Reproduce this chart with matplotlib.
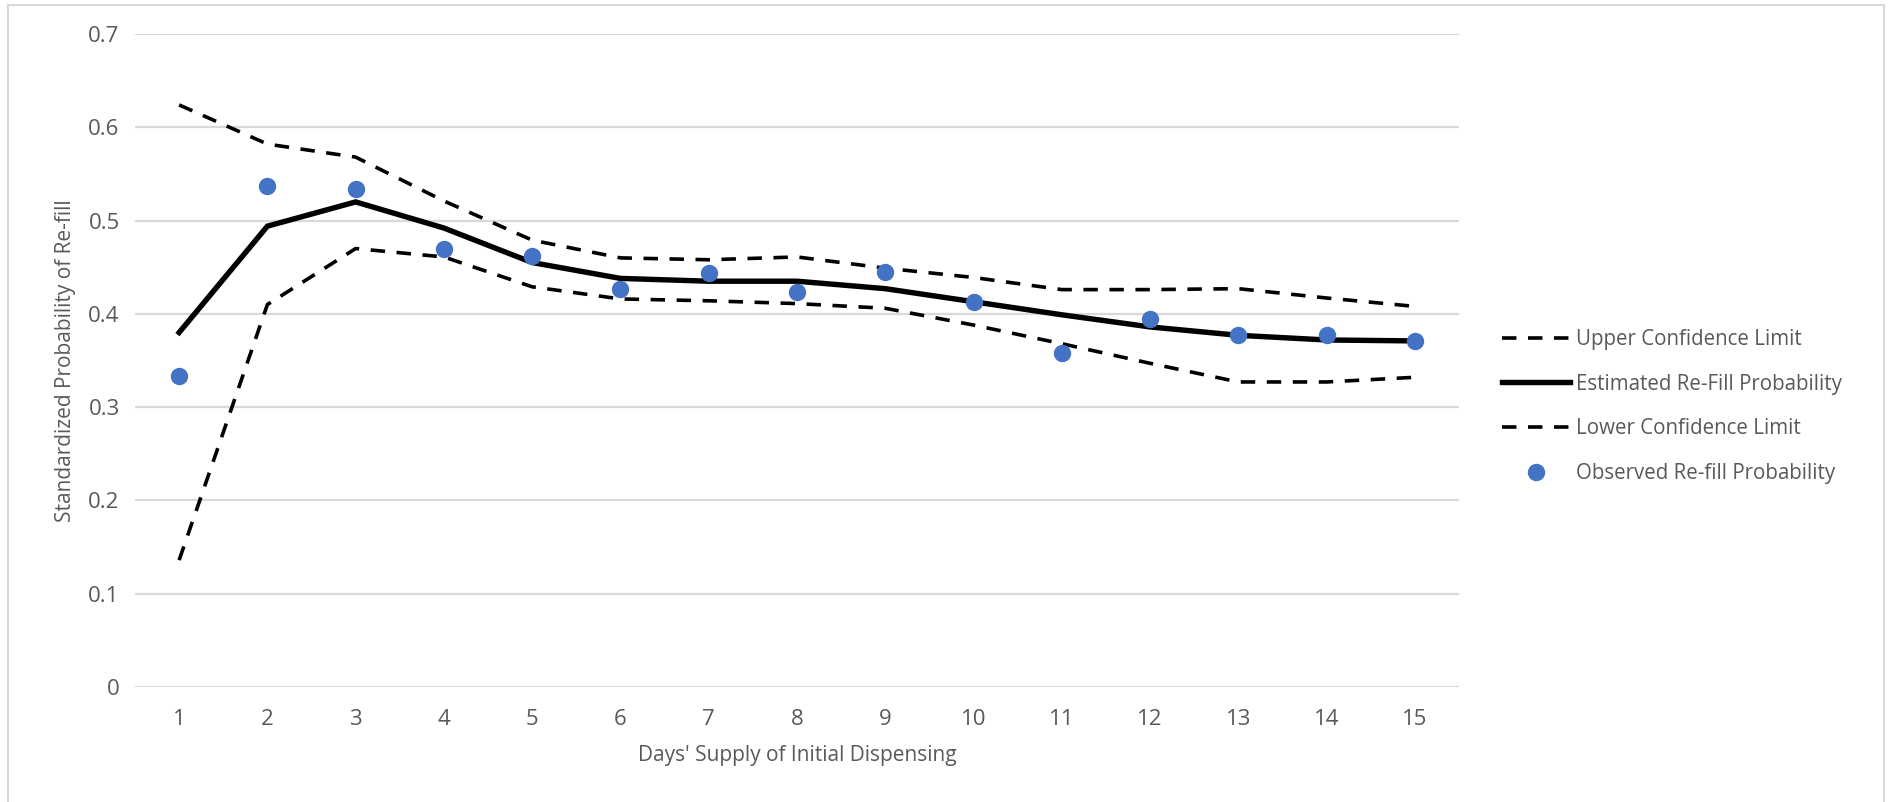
import numpy as np
import matplotlib.pyplot as plt
from matplotlib.patches import Rectangle

# days' supply of the initial dispensing
days = np.arange(1, 16)

upper_cl = [0.624, 0.582, 0.568, 0.521, 0.479, 0.460, 0.458, 0.461, 0.449,
            0.439, 0.426, 0.426, 0.427, 0.417, 0.408]
estimated = [0.380, 0.494, 0.520, 0.492, 0.455, 0.438, 0.435, 0.435, 0.427,
             0.413, 0.399, 0.386, 0.377, 0.372, 0.371]
lower_cl = [0.136, 0.410, 0.470, 0.461, 0.429, 0.416, 0.414, 0.411, 0.406,
            0.388, 0.368, 0.347, 0.327, 0.327, 0.332]
observed = [0.333, 0.537, 0.534, 0.469, 0.462, 0.427, 0.444, 0.423, 0.445,
            0.413, 0.358, 0.394, 0.377, 0.377, 0.371]

text_col = '#595959'
grid_col = '#D9D9D9'
plt.rcParams['font.family'] = ['Open Sans', 'DejaVu Sans']

fig = plt.figure(figsize=(18.93, 8.02), dpi=100)
ax = fig.add_axes([135 / 1893, 1 - 687 / 802, (1459 - 135) / 1893, (687 - 34) / 802])

dash = (4, 3.2)
ax.plot(days, upper_cl, color='black', lw=2.6, dashes=dash, label='Upper Confidence Limit')
ax.plot(days, estimated, color='black', lw=3.9, solid_joinstyle='miter',
        label='Estimated Re-Fill Probability')
ax.plot(days, lower_cl, color='black', lw=2.6, dashes=dash, label='Lower Confidence Limit')
ax.plot(days, observed, 'o', color='#4472C4', ms=11.5, mec='#4472C4',
        label='Observed Re-fill Probability')

ax.set_xlim(0.5, 15.5)
ax.set_ylim(0, 0.7)
ax.set_xticks(days)
ax.set_yticks(np.arange(0, 0.71, 0.1))
ax.set_yticklabels(['0', '0.1', '0.2', '0.3', '0.4', '0.5', '0.6', '0.7'])
ax.grid(axis='y', color=grid_col, lw=1.6)
ax.set_axisbelow(True)
for s in ax.spines.values():
    s.set_visible(False)
ax.tick_params(length=0, labelsize=16, labelcolor=text_col)
ax.tick_params(axis='x', pad=16)
ax.tick_params(axis='y', pad=11)

ax.set_xlabel("Days' Supply of Initial Dispensing", fontsize=15, color=text_col, labelpad=11)
ax.set_ylabel('Standardized Probability of Re-fill', fontsize=15, color=text_col, labelpad=9)

leg = fig.legend(loc='upper left', bbox_to_anchor=(1502 / 1893, 1 - 329 / 802),
                 frameon=False, fontsize=14.8, handlelength=3.3, handletextpad=0.3,
                 labelspacing=1.15, borderpad=0, borderaxespad=0)
for t in leg.get_texts():
    t.set_color(text_col)

# light outer border of the chart
fig.add_artist(Rectangle((8 / 1893, -0.01), (1884 - 8) / 1893, 1 - 5 / 802 + 0.01,
                         transform=fig.transFigure, fill=False, ec=grid_col, lw=1.5))

fig.savefig('out.png', dpi=100)
